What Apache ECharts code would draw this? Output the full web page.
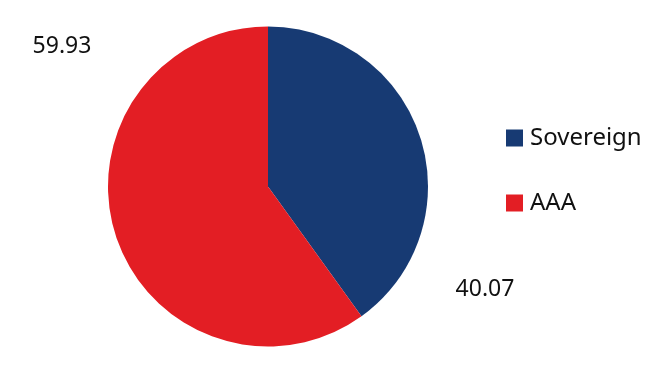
<!DOCTYPE html>
<html><head><meta charset="utf-8">
<script src="https://cdn.jsdelivr.net/npm/echarts@6/dist/echarts.min.js"></script>
<style>html,body{margin:0;padding:0;background:#fff}#c{width:662px;height:371px}</style>
</head><body><div id="c"></div>
<script>
const categories = ['Sovereign', 'AAA'];
const values = [40.07, 59.93];
const colors = ['#173A73', '#E31E24'];
const labelPos = [[485, 289], [62, 46]];

const chart = echarts.init(document.getElementById('c'));
chart.setOption({
  animation: false,
  color: colors,
  legend: {
    orient: 'vertical', left: 506, top: 126, padding: 0,
    itemWidth: 17, itemHeight: 17, itemGap: 41,
    icon: 'rect',
    textStyle: { fontFamily: 'Noto Sans', fontSize: 24, lineHeight: 24, color: '#111', padding: [0,0,0,2] },
    data: categories
  },
  series: [{
    type: 'pie', center: [268, 186.5], radius: 160, startAngle: 90, clockwise: true,
    label: { show: true, overflow: 'none', edgeDistance: 0, bleedMargin: 0, formatter: p => p.value.toFixed(2), fontFamily: 'Noto Sans', fontSize: 23, color: '#111' },
    labelLine: { show: false },
    labelLayout: function (params) {
      const p = labelPos[params.dataIndex];
      return { x: p[0], y: p[1], align: 'center', verticalAlign: 'middle' };
    },
    data: categories.map((c, i) => ({ name: c, value: values[i] }))
  }]
});
</script></body></html>
